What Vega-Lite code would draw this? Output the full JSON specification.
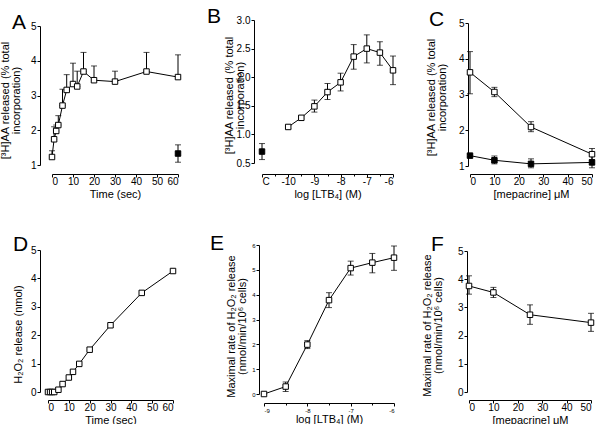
{
"$schema": "https://vega.github.io/schema/vega-lite/v6.json",
"autosize": {"type": "none"},
"padding": {"left": 40, "top": 20, "right": 563, "bottom": 404},
"background": "white",
"config": {
  "view": {"stroke": null},
  "font": "Liberation Sans",
  "axis": {"grid": false, "domainColor": "black", "tickColor": "black", "labelColor": "black", "titleColor": "black", "titleFontWeight": "normal", "labelFont": "Liberation Sans", "titleFont": "Liberation Sans", "tickSize": 3, "labelPadding": 1, "domainWidth": 1, "tickWidth": 1, "labelFontSize": 10, "titleFontSize": 11, "titleLineHeight": 11, "titlePadding": 5, "labelOverlap": false, "tickCount": 30},
  "axisX": {"labelPadding": -1, "titlePadding": 2},
  "title": {"fontSize": 21, "fontWeight": "normal", "anchor": "start", "frame": "group", "offset": 0, "color": "black", "font": "Liberation Sans", "baseline": "alphabetic"}
},
"datasets": {
  "A": [
    {"t": 0, "y": 1.23, "lo": 1.23, "hi": 1.41, "s": "o"},
    {"t": 1, "y": 1.74, "lo": 1.74, "hi": 2.1, "s": "o"},
    {"t": 2, "y": 1.98, "lo": 1.98, "hi": 2.15, "s": "o"},
    {"t": 3, "y": 2.15, "lo": 2.15, "hi": 2.42, "s": "o"},
    {"t": 5, "y": 2.71, "lo": 2.71, "hi": 3.18, "s": "o"},
    {"t": 7, "y": 3.16, "lo": 3.16, "hi": 3.6, "s": "o"},
    {"t": 10, "y": 3.33, "lo": 3.33, "hi": 3.93, "s": "o"},
    {"t": 12, "y": 3.26, "lo": 3.26, "hi": 3.7, "s": "o"},
    {"t": 15, "y": 3.69, "lo": 3.69, "hi": 4.24, "s": "o"},
    {"t": 20, "y": 3.44, "lo": 3.44, "hi": 3.85, "s": "o"},
    {"t": 30, "y": 3.4, "lo": 3.4, "hi": 3.7, "s": "o"},
    {"t": 45, "y": 3.69, "lo": 3.69, "hi": 4.24, "s": "o"},
    {"t": 60, "y": 3.53, "lo": 3.53, "hi": 4.17, "s": "o"},
    {"t": 60, "y": 1.33, "lo": 1.08, "hi": 1.58, "s": "f"}
  ],
  "B": [
    {"c": -11, "y": 0.7, "lo": 0.56, "hi": 0.84, "s": "f"},
    {"c": -10, "y": 1.13, "lo": 1.1, "hi": 1.16, "s": "o"},
    {"c": -9.5, "y": 1.29, "lo": 1.27, "hi": 1.31, "s": "o"},
    {"c": -9, "y": 1.49, "lo": 1.39, "hi": 1.6, "s": "o"},
    {"c": -8.5, "y": 1.74, "lo": 1.61, "hi": 1.89, "s": "o"},
    {"c": -8, "y": 1.91, "lo": 1.76, "hi": 2.07, "s": "o"},
    {"c": -7.5, "y": 2.36, "lo": 2.14, "hi": 2.57, "s": "o"},
    {"c": -7, "y": 2.5, "lo": 2.25, "hi": 2.74, "s": "o"},
    {"c": -6.5, "y": 2.43, "lo": 2.21, "hi": 2.62, "s": "o"},
    {"c": -6, "y": 2.12, "lo": 1.87, "hi": 2.37, "s": "o"}
  ],
  "C": [
    {"m": 0, "y": 3.62, "lo": 3.02, "hi": 4.2, "s": "o"},
    {"m": 10, "y": 3.07, "lo": 2.94, "hi": 3.2, "s": "o"},
    {"m": 25, "y": 2.09, "lo": 1.96, "hi": 2.24, "s": "o"},
    {"m": 50, "y": 1.33, "lo": 1.18, "hi": 1.49, "s": "o"},
    {"m": 0, "y": 1.29, "lo": 1.26, "hi": 1.32, "s": "f"},
    {"m": 10, "y": 1.16, "lo": 1.06, "hi": 1.28, "s": "f"},
    {"m": 25, "y": 1.06, "lo": 0.95, "hi": 1.2, "s": "f"},
    {"m": 50, "y": 1.1, "lo": 0.95, "hi": 1.28, "s": "f"}
  ],
  "D": [
    {"t": 0, "y": 0}, {"t": 1, "y": 0}, {"t": 2, "y": 0}, {"t": 3, "y": 0},
    {"t": 5, "y": 0.08}, {"t": 7, "y": 0.28}, {"t": 10, "y": 0.51}, {"t": 12, "y": 0.71},
    {"t": 15, "y": 0.99}, {"t": 20, "y": 1.49}, {"t": 30, "y": 2.35}, {"t": 45, "y": 3.49}, {"t": 60, "y": 4.26}
  ],
  "E": [
    {"c": -9, "y": 0, "lo": 0, "hi": 0},
    {"c": -8.5, "y": 0.3, "lo": 0.1, "hi": 0.48},
    {"c": -8, "y": 1.99, "lo": 1.83, "hi": 2.15},
    {"c": -7.5, "y": 3.78, "lo": 3.48, "hi": 4.08},
    {"c": -7, "y": 5.07, "lo": 4.79, "hi": 5.35},
    {"c": -6.5, "y": 5.29, "lo": 4.88, "hi": 5.66},
    {"c": -6, "y": 5.49, "lo": 4.98, "hi": 5.96}
  ],
  "F": [
    {"m": 0, "y": 3.76, "lo": 3.47, "hi": 4.12},
    {"m": 10, "y": 3.53, "lo": 3.35, "hi": 3.71},
    {"m": 25, "y": 2.74, "lo": 2.4, "hi": 3.09},
    {"m": 50, "y": 2.46, "lo": 2.15, "hi": 2.79}
  ]
},
"bounds": "flush",
"align": "all",
"columns": 3,
"spacing": {"row": 66, "column": 0},
"concat": [
   {
    "width": 214, "height": 154,
    "title": {"text": "A", "dx": -28, "dy": 17},
    "data": {"name": "A"},
    "layer": [
     {"transform": [{"filter": "datum.s == 'o'"}],
      "mark": {"type": "line", "color": "black", "strokeWidth": 1},
      "encoding": {
        "x": {"field": "t", "type": "quantitative", "scale": {"domain": [0, 60], "range": [12, 138], "nice": false, "zero": false},
              "axis": {"title": "Time (sec)", "values": [0, 10, 20, 30, 40, 50, 60], "format": "d", "tickCount": 30, "labelOverlap": false}},
        "y": {"field": "y", "type": "quantitative", "scale": {"domain": [1, 5], "range": [145, 6], "nice": false, "zero": false},
              "axis": {"title": ["[³H]AA released (% total", "incorporation)"], "values": [1, 2, 3, 4, 5], "format": "d", "tickCount": 30, "labelOverlap": false, "titleX": -30, "titleY": 80}}
      }},
     {"mark": {"type": "rule", "color": "black", "strokeWidth": 1},
      "encoding": {"x": {"field": "t", "type": "quantitative"}, "y": {"field": "lo", "type": "quantitative"}, "y2": {"field": "hi"}}},
     {"mark": {"type": "tick", "orient": "horizontal", "color": "black", "size": 6, "thickness": 1},
      "encoding": {"x": {"field": "t", "type": "quantitative"}, "y": {"field": "hi", "type": "quantitative"}}},
     {"mark": {"type": "tick", "orient": "horizontal", "color": "black", "size": 6, "thickness": 1},
      "encoding": {"x": {"field": "t", "type": "quantitative"}, "y": {"field": "lo", "type": "quantitative"}}},
     {"mark": {"type": "point", "shape": "square", "size": 30, "filled": true, "stroke": "black", "strokeWidth": 1, "opacity": 1},
      "encoding": {"x": {"field": "t", "type": "quantitative"}, "y": {"field": "y", "type": "quantitative"},
        "fill": {"condition": {"test": "datum.s == 'f'", "value": "black"}, "value": "white"}}}
    ]
   },
   {
    "width": 213, "height": 154,
    "title": {"text": "B", "dx": -47, "dy": 16},
    "data": {"name": "B"},
    "layer": [
     {"transform": [{"filter": "datum.s == 'o'"}],
      "mark": {"type": "line", "color": "black", "strokeWidth": 1},
      "encoding": {
        "x": {"field": "c", "type": "quantitative", "scale": {"domain": [-11, -6], "range": [8, 139], "nice": false, "zero": false},
              "axis": {"title": "log [LTB₄] (M)", "values": [-11, -10.5, -10, -9.5, -9, -8.5, -8, -7.5, -7, -6.5, -6], "tickCount": 30, "labelOverlap": false,
                       "labelExpr": "datum.value == -11 ? 'C' : (datum.value % 1 != 0 ? '' : datum.value)",
                       "tickSize": {"condition": {"test": "datum.value % 1 != 0", "value": 2}, "value": 3}}},
        "y": {"field": "y", "type": "quantitative", "scale": {"domain": [0.5, 3], "range": [143, 0], "nice": false, "zero": false},
              "axis": {"title": ["[³H]AA released (% total", "incorporation)"], "values": [0.5, 1, 1.5, 2, 2.5, 3], "tickCount": 30, "format": ".1f", "labelOverlap": false, "titleX": -20, "titleY": 75}}
      }},
     {"mark": {"type": "rule", "color": "black", "strokeWidth": 1},
      "encoding": {"x": {"field": "c", "type": "quantitative"}, "y": {"field": "lo", "type": "quantitative"}, "y2": {"field": "hi"}}},
     {"mark": {"type": "tick", "orient": "horizontal", "color": "black", "size": 6, "thickness": 1},
      "encoding": {"x": {"field": "c", "type": "quantitative"}, "y": {"field": "hi", "type": "quantitative"}}},
     {"mark": {"type": "tick", "orient": "horizontal", "color": "black", "size": 6, "thickness": 1},
      "encoding": {"x": {"field": "c", "type": "quantitative"}, "y": {"field": "lo", "type": "quantitative"}}},
     {"mark": {"type": "point", "shape": "square", "size": 30, "filled": true, "stroke": "black", "strokeWidth": 1, "opacity": 1},
      "encoding": {"x": {"field": "c", "type": "quantitative"}, "y": {"field": "y", "type": "quantitative"},
        "fill": {"condition": {"test": "datum.s == 'f'", "value": "black"}, "value": "white"}}}
    ]
   },
   {
    "width": 136, "height": 154,
    "title": {"text": "C", "dx": -39, "dy": 16},
    "data": {"name": "C"},
    "layer": [
     {"mark": {"type": "line", "color": "black", "strokeWidth": 1},
      "encoding": {
        "x": {"field": "m", "type": "quantitative", "scale": {"domain": [0, 50], "range": [2, 124], "nice": false, "zero": false},
              "axis": {"title": "[mepacrine] μM", "values": [0, 10, 20, 30, 40, 50], "format": "d", "tickCount": 30, "labelOverlap": false}},
        "y": {"field": "y", "type": "quantitative", "scale": {"domain": [1, 5], "range": [146, 3], "nice": false, "zero": false},
              "axis": {"title": ["[³H]AA released (% total", "incorporation)"], "values": [1, 2, 3, 4, 5], "format": "d", "tickCount": 30, "labelOverlap": false, "titleX": -32, "titleY": 77}},
        "detail": {"field": "s"}
      }},
     {"mark": {"type": "rule", "color": "black", "strokeWidth": 1},
      "encoding": {"x": {"field": "m", "type": "quantitative"}, "y": {"field": "lo", "type": "quantitative"}, "y2": {"field": "hi"}}},
     {"mark": {"type": "tick", "orient": "horizontal", "color": "black", "size": 6, "thickness": 1},
      "encoding": {"x": {"field": "m", "type": "quantitative"}, "y": {"field": "hi", "type": "quantitative"}}},
     {"mark": {"type": "tick", "orient": "horizontal", "color": "black", "size": 6, "thickness": 1},
      "encoding": {"x": {"field": "m", "type": "quantitative"}, "y": {"field": "lo", "type": "quantitative"}}},
     {"mark": {"type": "point", "shape": "square", "size": 30, "filled": true, "stroke": "black", "strokeWidth": 1, "opacity": 1},
      "encoding": {"x": {"field": "m", "type": "quantitative"}, "y": {"field": "y", "type": "quantitative"},
        "fill": {"condition": {"test": "datum.s == 'f'", "value": "black"}, "value": "white"}}}
    ]
   },
   {
    "width": 214, "height": 157,
    "title": {"text": "D", "dx": -27, "dy": 16},
    "data": {"name": "D"},
    "layer": [
     {"mark": {"type": "line", "color": "black", "strokeWidth": 1},
      "encoding": {
        "x": {"field": "t", "type": "quantitative", "scale": {"domain": [0, 60], "range": [8, 133], "nice": false, "zero": false},
              "axis": {"title": "Time (sec)", "values": [0, 10, 20, 30, 40, 50, 60], "format": "d", "tickCount": 30, "labelOverlap": false}},
        "y": {"field": "y", "type": "quantitative", "scale": {"domain": [0, 5], "range": [149, 7], "nice": false, "zero": false},
              "axis": {"title": "H₂O₂ release (nmol)", "values": [0, 1, 2, 3, 4, 5], "format": "d", "tickCount": 30, "labelOverlap": false, "titleX": -17, "titleY": 91}}
      }},
     {"mark": {"type": "point", "shape": "square", "size": 30, "filled": true, "fill": "white", "stroke": "black", "strokeWidth": 1, "opacity": 1},
      "encoding": {"x": {"field": "t", "type": "quantitative"}, "y": {"field": "y", "type": "quantitative"}}}
    ]
   },
   {
    "width": 213, "height": 157,
    "title": {"text": "E", "dx": -44, "dy": 16},
    "data": {"name": "E"},
    "layer": [
     {"mark": {"type": "line", "color": "black", "strokeWidth": 1},
      "encoding": {
        "x": {"field": "c", "type": "quantitative", "scale": {"domain": [-9, -6], "range": [10, 140], "nice": false, "zero": false},
              "axis": {"title": "log [LTB₄] (M)", "offset": 3, "values": [-9, -8.5, -8, -7.5, -7, -6.5, -6], "tickCount": 30, "labelOverlap": false, "labelFontSize": 6, "labelPadding": 1, "titlePadding": 0,
                       "labelExpr": "datum.value % 1 != 0 ? '' : datum.value",
                       "tickSize": {"condition": {"test": "datum.value % 1 != 0", "value": 2}, "value": 3}}},
        "y": {"field": "y", "type": "quantitative", "scale": {"domain": [0, 6], "range": [151, 2], "nice": false, "zero": false},
              "axis": {"title": ["Maximal rate of H₂O₂ release", "(nmol/min/10⁶ cells)"], "offset": -5, "values": [0, 1, 2, 3, 4, 5, 6], "format": "d", "tickCount": 30, "labelOverlap": false, "labelFontSize": 6, "titleX": -23, "titleY": 83}}
      }},
     {"mark": {"type": "rule", "color": "black", "strokeWidth": 1},
      "encoding": {"x": {"field": "c", "type": "quantitative"}, "y": {"field": "lo", "type": "quantitative"}, "y2": {"field": "hi"}}},
     {"mark": {"type": "tick", "orient": "horizontal", "color": "black", "size": 6, "thickness": 1},
      "encoding": {"x": {"field": "c", "type": "quantitative"}, "y": {"field": "hi", "type": "quantitative"}}},
     {"mark": {"type": "tick", "orient": "horizontal", "color": "black", "size": 6, "thickness": 1},
      "encoding": {"x": {"field": "c", "type": "quantitative"}, "y": {"field": "lo", "type": "quantitative"}}},
     {"mark": {"type": "point", "shape": "square", "size": 30, "filled": true, "fill": "white", "stroke": "black", "strokeWidth": 1, "opacity": 1},
      "encoding": {"x": {"field": "c", "type": "quantitative"}, "y": {"field": "y", "type": "quantitative"}}}
    ]
   },
   {
    "width": 136, "height": 157,
    "title": {"text": "F", "dx": -37, "dy": 16},
    "data": {"name": "F"},
    "layer": [
     {"mark": {"type": "line", "color": "black", "strokeWidth": 1},
      "encoding": {
        "x": {"field": "m", "type": "quantitative", "scale": {"domain": [0, 50], "range": [1, 123], "nice": false, "zero": false},
              "axis": {"title": "[mepacrine] μM", "values": [0, 10, 20, 30, 40, 50], "format": "d", "tickCount": 30, "labelOverlap": false}},
        "y": {"field": "y", "type": "quantitative", "scale": {"domain": [0, 5], "range": [149, 8], "nice": false, "zero": false},
              "axis": {"title": ["Maximal rate of H₂O₂ release", "(nmol/min/10⁶ cells)"], "offset": 1, "values": [0, 1, 2, 3, 4, 5], "format": "d", "tickCount": 30, "labelOverlap": false, "titleX": -35, "titleY": 82}}
      }},
     {"mark": {"type": "rule", "color": "black", "strokeWidth": 1},
      "encoding": {"x": {"field": "m", "type": "quantitative"}, "y": {"field": "lo", "type": "quantitative"}, "y2": {"field": "hi"}}},
     {"mark": {"type": "tick", "orient": "horizontal", "color": "black", "size": 6, "thickness": 1},
      "encoding": {"x": {"field": "m", "type": "quantitative"}, "y": {"field": "hi", "type": "quantitative"}}},
     {"mark": {"type": "tick", "orient": "horizontal", "color": "black", "size": 6, "thickness": 1},
      "encoding": {"x": {"field": "m", "type": "quantitative"}, "y": {"field": "lo", "type": "quantitative"}}},
     {"mark": {"type": "point", "shape": "square", "size": 30, "filled": true, "fill": "white", "stroke": "black", "strokeWidth": 1, "opacity": 1},
      "encoding": {"x": {"field": "m", "type": "quantitative"}, "y": {"field": "y", "type": "quantitative"}}}
    ]
   }
]
}
